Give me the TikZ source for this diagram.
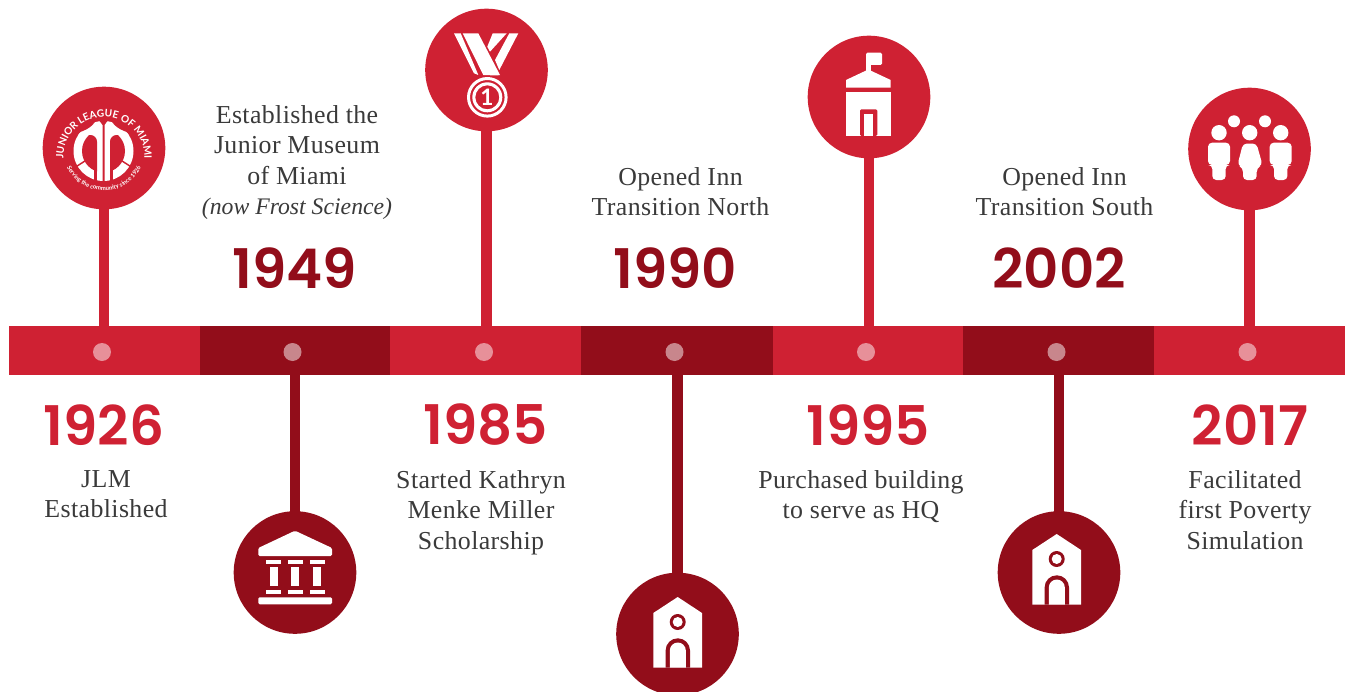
\documentclass[tikz,border=0pt]{standalone}
\usepackage{fontspec}
\setmainfont{Liberation Serif}[LetterSpace=1.5]
\newfontfamily\itfont{Liberation Serif}[Scale=1,UprightFont=* Italic]
\newfontfamily\yearfont{Poppins}[UprightFont=* SemiBold]
\newfontfamily\logofont{Lato}[UprightFont=* Bold]
\usetikzlibrary{decorations.text}
\definecolor{jred}{HTML}{CF2133}
\definecolor{jdark}{HTML}{920D1A}
\definecolor{jink}{HTML}{3A3A3A}
\tikzset{
  seg/.style={draw=none,inner sep=0pt,outer sep=0pt,minimum height=37.2pt,anchor=west},
  dot/.style={circle,fill=white,fill opacity=.5,draw=none,inner sep=0pt,minimum size=13.5pt},
  pin/.style={circle,draw=none,inner sep=0pt,outer sep=0pt,minimum size=92pt},
  stem/.style={line width=8.2pt},
  year/.style={font=\yearfont\fontsize{41}{41}\selectfont,inner sep=0pt},
  caption/.style={font=\fontsize{19.4}{22.9}\selectfont,text=jink,align=center,inner sep=0pt,anchor=north},
  ico/.style={fill=white,draw=none},
}
\begin{document}
\begin{tikzpicture}[x=.75pt,y=-.75pt]
\useasboundingbox (0,0) rectangle (1346,692);
% pins (named first, so the stems can start from them)
\node[pin] (p1) at (104,148) {};
\node[pin] (p2) at (295,572.5) {};
\node[pin] (p3) at (486.5,70) {};
\node[pin] (p4) at (677.5,634) {};
\node[pin] (p5) at (869,97) {};
\node[pin] (p6) at (1059,572.5) {};
\node[pin] (p7) at (1249.5,149) {};
% bar
\node[seg,fill=jred,minimum width=142.9pt]  (s1) at (9,350.5) {};
\node[seg,fill=jdark,minimum width=142.9pt] (s2) at (199.5,350.5) {};
\node[seg,fill=jred,minimum width=143.2pt]  (s3) at (390,350.5) {};
\node[seg,fill=jdark,minimum width=144pt]   (s4) at (581,350.5) {};
\node[seg,fill=jred,minimum width=142.5pt]  (s5) at (773,350.5) {};
\node[seg,fill=jdark,minimum width=143.2pt] (s6) at (963,350.5) {};
\node[seg,fill=jred,minimum width=143.2pt]  (s7) at (1154,350.5) {};
\node[dot] (d1) at (102,352) {};
\node[dot] (d2) at (292.5,352) {};
\node[dot] (d3) at (484,352) {};
\node[dot] (d4) at (674.5,352) {};
\node[dot] (d5) at (866,352) {};
\node[dot] (d6) at (1056.5,352) {};
\node[dot] (d7) at (1247.5,352) {};
% stems
\draw[stem,jred]  (p1.center) -- (p1.center |- s1.north);
\draw[stem,jdark] (p2.center) -- (p2.center |- s2.south);
\draw[stem,jred]  (p3.center) -- (p3.center |- s3.north);
\draw[stem,jdark] (p4.center) -- (p4.center |- s4.south);
\draw[stem,jred]  (p5.center) -- (p5.center |- s5.north);
\draw[stem,jdark] (p6.center) -- (p6.center |- s6.south);
\draw[stem,jred]  (p7.center) -- (p7.center |- s7.north);
% pin discs
\fill[jred] (p1.center) circle (61.3);
\fill[jdark] (p2.center) circle (61.3);
\fill[jred] (p3.center) circle (61.3);
\fill[jdark] (p4.center) circle (61.3);
\fill[jred] (p5.center) circle (61.3);
\fill[jdark] (p6.center) circle (61.3);
\fill[jred] (p7.center) circle (61.3);
% years
\node[year,text=jred]  (y1) at (104,425) {1926};
\node[year,text=jdark] (y2) at (295,268) {1949};
\node[year,text=jred]  (y3) at (486,425) {1985};
\node[year,text=jdark] (y4) at (675,268) {1990};
\node[year,text=jred]  (y5) at (868,425) {1995};
\node[year,text=jdark] (y6) at (1059,268) {2002};
\node[year,text=jred]  (y7) at (1250,425) {2017};
% captions
\node[caption] (t1) at (106,470) {JLM\\Established};
\node[caption] (t2) at (297,105) {Established the\\Junior Museum\\of Miami\\{\itfont\fontsize{17.8}{22.9}\selectfont (now Frost Science)}};
\node[caption] (t3) at (481,470) {Started Kathryn\\Menke Miller\\Scholarship};
\node[caption] (t4) at (680.5,167) {Opened Inn\\Transition North};
\node[caption] (t5) at (861,470) {Purchased building\\to serve as HQ};
\node[caption] (t6) at (1064.5,167) {Opened Inn\\Transition South};
\node[caption] (t7) at (1245,470) {Facilitated\\first Poverty\\Simulation};
% logo
\begin{scope}[shift={(103.5,151)}]
  \fill[white] (0,0) circle (30);
  % corners cut so the arches rise to the two peaks
  \fill[jred] (-7.5,-32) -- (-31,-32) -- (-31,-16) .. controls (-21,-20) and (-12,-22) .. (-7.5,-31) -- cycle;
  \fill[jred] (7.5,-32) -- (31,-32) -- (31,-16) .. controls (21,-20) and (12,-22) .. (7.5,-31) -- cycle;
  % windows
  \begin{scope}
    \clip (0,0) circle (21.5);
    \fill[jred,rounded corners=5pt] (-30,-16) -- (-6.5,-16) -- (-6.5,40) -- (-30,40) -- cycle;
    \fill[jred,rounded corners=5pt] (30,-16) -- (6.5,-16) -- (6.5,40) -- (30,40) -- cycle;
  \end{scope}
  % slits
  \fill[jred] (-9.5,18) rectangle (-6.5,32);
  \fill[jred] (6.5,18) rectangle (9.5,32);
  \fill[jred] (-6,-33) -- (6,-33) -- (1,-26) -- (1,32) -- (-1,32) -- (-1,-26) -- cycle;
  \draw[jred,line width=1.1pt] (-31,18) -- (-17,9);
  \draw[jred,line width=1.1pt] (31,18) -- (17,9);
\end{scope}
\begin{scope}[shift={(104,157.5)}]
  \path[decorate,decoration={text along path,text align=center,
    text={|\logofont\fontsize{7.6}{8}\selectfont\color{white}|JUNIOR LEAGUE OF MIAMI}}]
    (-40.1,5.6) arc[start angle=172,end angle=368,radius=40.5];
\end{scope}
\begin{scope}[shift={(104,149.5)}]
  \path[decorate,decoration={text along path,text align=center,
    text={|\logofont\fontsize{4.5}{5}\selectfont\color{white}|Serving the community since 1926}}]
    (-38,15.4) arc[start angle=158,end angle=22,radius=41];
\end{scope}
% medal
\begin{scope}[shift={(415,0)}]
  \fill[ico] (39,33.3) -- (45.7,33.3) -- (63.3,75) -- (59,73.3) -- cycle;
  \fill[ico] (47.7,33.3) -- (63.3,33.3) -- (85,75) -- (81.7,75.5) -- (68.3,75) -- cycle;
  \fill[ico] (77.7,33.3) -- (91.7,33.3) -- (75,51.7) -- (72.3,46.7) -- cycle;
  \fill[ico] (94.3,33.3) -- (103.3,33.3) -- (84.3,70) -- (80,60) -- cycle;
  \fill[ico,even odd rule] (72.3,97.3) circle (20.3) (72.3,97.3) circle (17.3);
  \fill[ico,even odd rule] (72.3,97.3) circle (15) (72.3,97.3) circle (12);
  \node[inner sep=0pt,text=white,font=\logofont\fontsize{17}{17}\selectfont] (medal1) at (72,97.5) {1};
\end{scope}
% museum
\begin{scope}[shift={(225,505)}]
  \fill[ico,rounded corners=1pt] (70,25.7) -- (107,43) -- (107,51) -- (33.3,51) -- (33.3,43) -- cycle;
  \foreach \cx in {48.5,70,92.3}{
    \fill[ico] (\cx-7.5,55) rectangle (\cx+7.5,59);
    \fill[ico] (\cx-4,62) rectangle (\cx+4,81);
    \fill[ico] (\cx-7.5,85) rectangle (\cx+7.5,89);
  }
  \fill[ico,rounded corners=1pt] (33.3,92.3) rectangle (107,99.3);
\end{scope}
% house with flag
\begin{scope}[shift={(800,10)}]
  \fill[ico,rounded corners=1pt] (66,42.7) rectangle (82,55);
  \fill[ico] (66,50) rectangle (70.7,61);
  \fill[ico] (46,77.7) -- (46,70) -- (68.3,59.5) -- (90.7,70) -- (90.7,77.7) -- cycle;
  \fill[ico] (46,82.3) rectangle (90.7,126);
  \fill[jred,rounded corners=1pt] (60,126) -- (60,99.3) -- (77.3,99.3) -- (77.3,126) -- cycle;
  \fill[ico] (64,104) rectangle (73.3,126);
\end{scope}
% people
\begin{scope}[shift={(1180,80)}]
  \fill[ico] (54,41.3) circle (6);
  \fill[ico] (85,41.3) circle (6);
  \fill[ico] (39,52.7) circle (7.7);
  \fill[ico] (69.7,52.7) circle (7.7);
  \fill[ico] (100.7,52.7) circle (7.7);
  \foreach \cx in {39,100.7}{
    \fill[ico,rounded corners=3pt] (\cx-11,62.7) -- (\cx+11,62.7) -- (\cx+11,85) -- (\cx+6.7,85) -- (\cx+6.7,100) -- (\cx-6.7,100) -- (\cx-6.7,85) -- (\cx-11,85) -- cycle;
  }
  \fill[ico,rounded corners=3pt] (63,63.5) -- (76.5,63.5) -- (82.5,85) -- (76.7,88) -- (76.7,100) -- (63,100) -- (63,88) -- (57.5,85) -- cycle;
\end{scope}
% small houses
\foreach \ox/\oy in {610/570,989/507}{
\begin{scope}[shift={(\ox,\oy)}]
  \fill[ico] (43.3,97.7) -- (43.3,43) -- (67.7,27) -- (92,43) -- (92,97.7) -- cycle;
  \fill[jdark] (67.7,52) circle (8);
  \fill[ico] (67.7,52) circle (5);
  \fill[jdark] (55.6,97.7) -- (55.6,80.5) arc[start angle=180,end angle=360,radius=12.2] -- (80,97.7) -- cycle;
  \fill[ico] (59.8,97.7) -- (59.8,80.5) arc[start angle=180,end angle=360,radius=8] -- (75.8,97.7) -- cycle;
\end{scope}
}
\end{tikzpicture}
\end{document}
